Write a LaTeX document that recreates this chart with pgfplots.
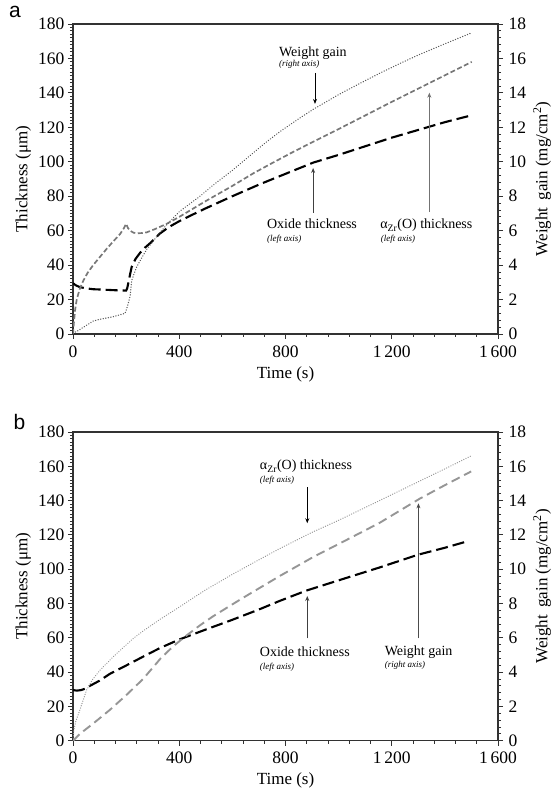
\documentclass[border=0pt]{standalone}
\usepackage{fontspec}
\setmainfont{Liberation Serif}
\newfontfamily\arial{Liberation Sans}
\usepackage{pgfplots}
\pgfplotsset{compat=1.18}
\usetikzlibrary{arrows.meta}
\definecolor{gA}{RGB}{120,120,120}
\definecolor{gB}{RGB}{150,150,150}
\definecolor{dA}{RGB}{90,90,90}
\definecolor{dB}{RGB}{150,150,150}
\definecolor{axc}{RGB}{50,50,50}
\tikzset{
  ann/.style={font=\fontsize{14}{14}\selectfont, anchor=base west, inner sep=0pt},
  sub/.style={font=\fontsize{9}{9}\selectfont\itshape, anchor=base west, inner sep=0pt},
  oxs/.style={black, line width=2.1pt, dash pattern=on 12pt off 5pt},
}
\pgfplotsset{
  base/.style={
    scale only axis, width=425pt, height=310pt,
    xmin=0, xmax=1600,
    /pgf/number format/assume math mode=true,
    tick label style={font=\fontsize{17.5}{17.5}\selectfont},
    label style={font=\fontsize{17}{17}\selectfont},
    tick align=outside,
    major tick length=5pt, minor tick length=3pt,
    every tick/.style={axc, line width=0.8pt},
    axis line style={axc, line width=1.3pt},
  },
  leftax/.style={base,
    ymin=0, ymax=180, ytick={0,20,...,180}, minor y tick num=9,
    xtick={0,400,800,1200,1600}, xticklabels={0,400,800,1\,200,1\,600},
    xticklabel style={yshift=-3pt},
    minor x tick num=4, xtick pos=bottom, ytick pos=left,
    xlabel={Time (s)}, ylabel={Thickness (μm)},
    xlabel style={at={(axis description cs:0.5,-0.13)}, anchor=center},
    ylabel style={at={(axis description cs:-0.117,0.5)}, anchor=center},
  },
  rightax/.style={base,
    ymin=0, ymax=18, ytick={0,2,...,18}, minor y tick num=4,
    axis x line=none, axis y line*=right,
    yticklabel style={xshift=2pt},
    ylabel={Weight\, gain (mg/cm\textsuperscript{2})},
    ylabel style={at={(axis description cs:1.104,0.5)}, anchor=center},
  },
}
\begin{document}
\begin{tikzpicture}
\useasboundingbox (0,0) rectangle (551pt,796pt);
\node[font=\arial\fontsize{21}{21}\selectfont, anchor=base] at (15pt,778pt) {a};
\node[font=\arial\fontsize{21}{21}\selectfont, anchor=base] at (19.5pt,366pt) {b};
% ---------------- panel a ----------------
\begin{axis}[leftax, at={(73pt,462pt)}, anchor=south west]
\addplot[oxs] coordinates {
(0,29.5) (10,28.3) (26,27.2) (50,26.5) (76,26.0) (120,25.7) (160,25.4) (200,25.2)
(204,26.5) (208,29.4) (214,34) (221,39) (235,43.5) (252,47) (270,50) (290,52.7)
(327,58.3) (360,62) (400,65.5) (450,69.3) (500,73) (600,80) (704,87) (800,93)
(904,99.5) (1000,104) (1100,109) (1200,114) (1300,118.5) (1400,123) (1501,127)};
\addplot[gA, line width=1.7pt, dash pattern=on 5pt off 2.5pt] coordinates {
(0,0) (3,6) (8,14) (14,20) (25,26) (39,31) (55,35.5) (76,40) (100,44.5) (127,49.5)
(150,53.5) (177,58) (192,61.5) (200,64) (207,61.5) (215,60) (228,58.8) (240,58.5)
(260,58.6) (277,59) (310,61) (353,64) (400,68) (500,77.2) (600,86) (680,93.4) (742,98.6)
(820,105) (900,111.3) (1000,119) (1118,128.3) (1200,134.8) (1300,142.5) (1400,150.2) (1501,158)};
\node[ann] at (axis cs:775,161.4) {Weight gain};
\node[sub] at (axis cs:775,155.2) {(right axis)};
\draw[black, line width=0.8pt, -{Stealth[length=5pt,width=4pt]}] (axis cs:911,151.6) -- (axis cs:911,133.6);
\node[ann] at (axis cs:730,61) {Oxide thickness};
\node[sub] at (axis cs:730,53.6) {(left axis)};
\draw[black!75, line width=0.8pt, -{Stealth[length=5pt,width=4pt]}] (axis cs:904,70.3) -- (axis cs:904,96.4);
\node[ann] at (axis cs:1156,61) {α\textsubscript{Zr}(O) thickness};
\node[sub] at (axis cs:1158,53.6) {(left axis)};
\draw[black!55, line width=0.8pt, -{Stealth[length=5pt,width=4pt]}] (axis cs:1341.5,70.8) -- (axis cs:1341.5,140.1);
\end{axis}
\begin{axis}[rightax, at={(73pt,462pt)}, anchor=south west]
\addplot[dA, line width=1.3pt, line cap=round, dash pattern=on 0.2pt off 2.4pt] coordinates {
(0,0.05) (20,0.2) (40,0.4) (76,0.75) (100,0.85) (150,1.0) (196,1.2) (205,1.6)
(215,2.2) (221,3.1) (230,3.5) (240,3.9) (258,4.4) (277,4.9) (315,5.65) (350,6.3)
(400,7.1) (478,8.0) (528,8.65) (600,9.5) (654,10.2) (720,11.05) (779,11.75) (850,12.5)
(905,13.05) (1000,13.9) (1080,14.55) (1156,15.15) (1230,15.7) (1300,16.2) (1400,16.85) (1495,17.45)};
\end{axis}
% ---------------- panel b ----------------
\begin{axis}[leftax, height=308.7pt, at={(73pt,55.3pt)}, anchor=south west]
\addplot[oxs] coordinates {
(0,29.5) (15,29.2) (30,29.5) (45,30.3) (64,32) (100,35) (139,39) (202,44) (270,49.5)
(327,54) (400,59) (503,65) (600,70.5) (700,76.5) (778,81.5) (878,87.5) (1000,93.5)
(1154,101) (1300,108.5) (1400,112.5) (1479,116)};
\addplot[dB, line width=1.2pt, line cap=round, dash pattern=on 0.2pt off 2.2pt] coordinates {
(0,0) (3,6) (10,11) (26,18) (51,29.5) (75,36) (101,41) (152,49) (226,59.5) (264,64)
(330,71) (401,78) (440,82) (500,88) (600,97) (700,105.5) (778,112) (900,121.5)
(1000,128.5) (1154,140) (1300,151) (1400,158.5) (1498,166)};
\node[ann] at (axis cs:703,157.9) {α\textsubscript{Zr}(O) thickness};
\node[sub] at (axis cs:703,150.7) {(left axis)};
\draw[black, line width=0.8pt, -{Stealth[length=5pt,width=4pt]}] (axis cs:882,147.8) -- (axis cs:882,126.8);
\node[ann] at (axis cs:703,49) {Oxide thickness};
\node[sub] at (axis cs:703,41.8) {(left axis)};
\draw[black!75, line width=0.8pt, -{Stealth[length=5pt,width=4pt]}] (axis cs:882,59.7) -- (axis cs:882,84.4);
\node[ann] at (axis cs:1173,49.6) {Weight gain};
\node[sub] at (axis cs:1173,42.8) {(right axis)};
\draw[black!70, line width=0.8pt, -{Stealth[length=5pt,width=4pt]}] (axis cs:1300.5,59.7) -- (axis cs:1300.5,138.4);
\end{axis}
\begin{axis}[rightax, height=308.7pt, at={(73pt,55.3pt)}, anchor=south west]
\addplot[gB, line width=1.9pt, dash pattern=on 9pt off 5pt] coordinates {
(0,0) (26,0.4) (80,1.05) (139,1.8) (200,2.65) (264,3.6) (330,4.8) (377,5.5)
(420,6.05) (480,6.75) (527,7.25) (600,7.95) (653,8.45) (778,9.6) (903,10.7)
(1029,11.7) (1154,12.7) (1304,14.1) (1400,14.9) (1499,15.7)};
\end{axis}
\end{tikzpicture}
\end{document}
